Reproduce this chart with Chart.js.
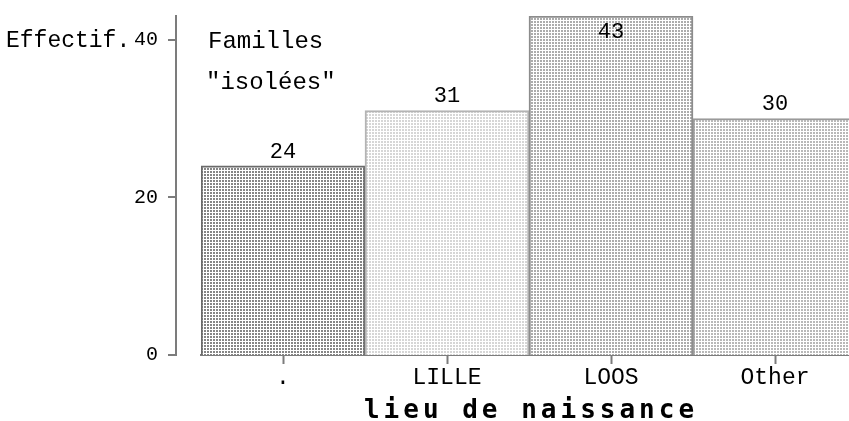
<!DOCTYPE html>
<html>
<head>
<meta charset="utf-8">
<script src="https://cdn.jsdelivr.net/npm/chart.js@4"></script>
<style>
  html, body { margin: 0; padding: 0; background: #fff; overflow: hidden; }
  #chart { display: block; }
</style>
</head>
<body>
<canvas id="chart" width="870" height="421"></canvas>
<script>
// birthplace counts
const categories = ['.', 'LILLE', 'LOOS', 'Other'];
const counts = [24, 31, 43, 30];
const yTicks = [0, 20, 40];
const yMax = 43;

const axisColor = '#7c7c7c';

// small dotted tile used as a bar fill
function dots(size, dot, color) {
  const c = document.createElement('canvas');
  c.width = c.height = size;
  const g = c.getContext('2d');
  g.fillStyle = '#fff';
  g.fillRect(0, 0, size, size);
  g.fillStyle = color;
  g.fillRect(0, 0, dot, dot);
  return g.createPattern(c, 'repeat');
}

const fills = [
  dots(3, 2, '#858585'),
  dots(3, 2, '#d6d6d6'),
  dots(3, 2, '#acacac'),
  dots(3, 2, '#b8b8b8')
];
const borders = ['#6a6a6a', '#b4b4b4', '#8c8c8c', '#9a9a9a'];

// y axis sits a bit to the left of the bars, drawn here with the scale's pixels
const detachedAxis = {
  id: 'detachedAxis',
  afterDraw(chart) {
    const ctx = chart.ctx;
    const y = chart.scales.y;
    const x0 = chart.chartArea.left - 25;
    ctx.save();
    ctx.strokeStyle = axisColor;
    ctx.lineWidth = 2;
    ctx.beginPath();
    ctx.moveTo(x0, chart.chartArea.top - 1);
    ctx.lineTo(x0, y.getPixelForValue(0) + 1);
    yTicks.forEach(v => {
      const py = Math.round(y.getPixelForValue(v));
      ctx.moveTo(x0 - 8, py);
      ctx.lineTo(x0, py);
    });
    ctx.stroke();
    ctx.restore();
  }
};

// counts written on top of each bar (inside when there is no room above)
const barValues = {
  id: 'barValues',
  afterDatasetsDraw(chart) {
    const ctx = chart.ctx;
    const meta = chart.getDatasetMeta(0);
    ctx.save();
    ctx.font = '22px "Liberation Mono"';
    ctx.fillStyle = '#000';
    ctx.textAlign = 'center';
    ctx.textBaseline = 'middle';
    meta.data.forEach((bar, i) => {
      const ty = bar.y - 24 < 0 ? bar.y + 16 : bar.y - 14;
      ctx.fillText(String(counts[i]), bar.x, ty);
    });
    ctx.restore();
  }
};

// axis titles and the group note
const texts = {
  id: 'texts',
  afterDraw(chart) {
    const ctx = chart.ctx;
    const area = chart.chartArea;
    ctx.save();
    ctx.fillStyle = '#000';
    ctx.textBaseline = 'alphabetic';
    ctx.textAlign = 'left';
    ctx.font = '23px "Liberation Mono"';
    ctx.fillText('Effectif.', 6, 47);
    ctx.font = '24px "Liberation Mono"';
    ctx.fillText('Familles', 208, 48);
    ctx.fillText('"isolées"', 206, 89);

    ctx.font = 'bold 26px "DejaVu Sans Mono"';
    ctx.letterSpacing = '4px';
    ctx.textAlign = 'center';
    ctx.fillText('lieu de naissance', (area.left + area.right) / 2 + 2, 418);
    ctx.restore();
  }
};

new Chart(document.getElementById('chart'), {
  type: 'bar',
  data: {
    labels: categories,
    datasets: [{
      data: counts,
      backgroundColor: fills,
      borderColor: borders,
      borderWidth: 2,
      barPercentage: 1,
      categoryPercentage: 1
    }]
  },
  options: {
    responsive: false,
    animation: false,
    devicePixelRatio: 1,
    layout: { padding: { top: 16, right: 13, left: 0, bottom: 0 } },
    plugins: {
      legend: { display: false },
      tooltip: { enabled: false }
    },
    scales: {
      x: {
        offset: true,
        grid: {
          display: true,
          offset: false,
          drawOnChartArea: false,
          tickLength: 9,
          tickWidth: 2,
          color: axisColor
        },
        border: { display: true, color: axisColor, width: 2 },
        ticks: {
          color: '#000',
          font: { family: 'Liberation Mono', size: 23 },
          padding: 0,
          maxRotation: 0
        },
        afterFit(scale) {
          scale.height = 66;
          scale.paddingLeft = 0;
          scale.paddingRight = 0;
        }
      },
      y: {
        min: 0,
        max: yMax,
        grid: { display: false },
        border: { display: false },
        ticks: {
          color: '#000',
          font: { family: 'Liberation Mono', size: 20 },
          padding: 35
        },
        afterBuildTicks(scale) {
          scale.ticks = yTicks.map(v => ({ value: v }));
        },
        afterFit(scale) {
          scale.width = 201;
          scale.paddingTop = 0;
          scale.paddingBottom = 0;
        }
      }
    }
  },
  plugins: [detachedAxis, barValues, texts]
});
</script>
</body>
</html>
